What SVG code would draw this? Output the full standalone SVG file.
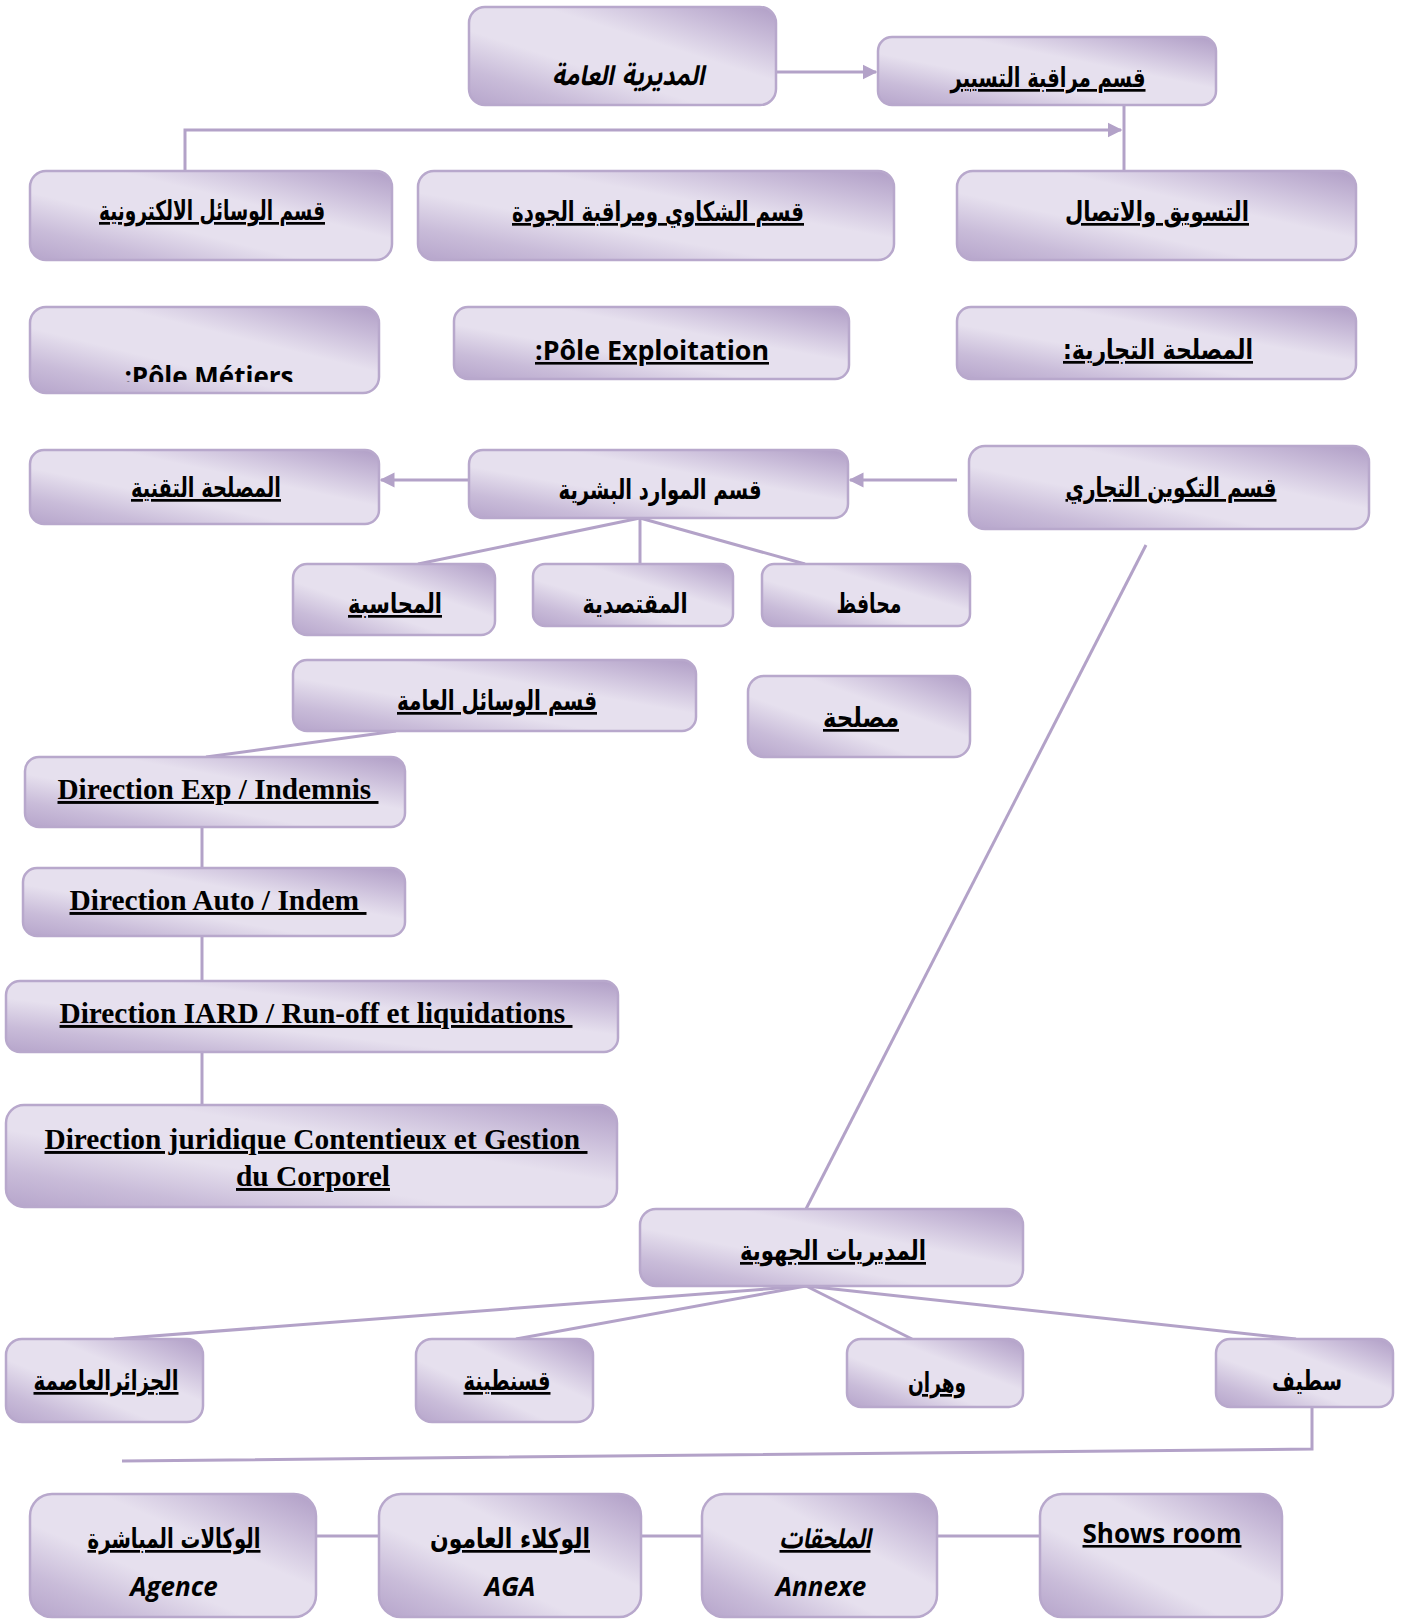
<svg xmlns="http://www.w3.org/2000/svg" width="1403" height="1619" viewBox="0 0 1403 1619">
<defs>
<linearGradient id="g" x1="0" y1="1" x2="1" y2="0">
<stop offset="0" stop-color="#b6a5cb"/>
<stop offset="0.18" stop-color="#c9bcd9"/>
<stop offset="0.38" stop-color="#e6e0ee"/>
<stop offset="0.62" stop-color="#e6e0ee"/>
<stop offset="0.82" stop-color="#c9bcd9"/>
<stop offset="1" stop-color="#b09ec6"/>
</linearGradient>
<marker id="ah" viewBox="0 0 10 10" refX="9" refY="5" markerWidth="5" markerHeight="6" orient="auto">
<path d="M0,0 L10,5 L0,10 z" fill="#b3a2c8"/>
</marker>
<clipPath id="cm"><rect x="30" y="300" width="350" height="82"/></clipPath>
</defs>
<style>
.b{fill:url(#g);stroke:#b8a8cc;stroke-width:2.5}
.c{stroke:#b3a2c8;stroke-width:3;fill:none}
.ar{font-family:"DejaVu Sans","Noto Sans Arabic",sans-serif;font-weight:bold;font-size:27px;fill:#000;text-anchor:middle;direction:rtl}
.u{text-decoration:underline}
.tr{font-family:"Liberation Serif",serif;font-weight:bold;font-size:29px;fill:#000;text-anchor:middle;text-decoration:underline;white-space:pre}
.sa{font-family:"Open Sans","Noto Sans",sans-serif;font-weight:bold;font-size:26px;fill:#000;text-anchor:middle}
</style>
<g id="connectors">
<line class="c" x1="776" y1="72" x2="876" y2="72" marker-end="url(#ah)"/>
<polyline class="c" points="185,171 185,130 1121,130" marker-end="url(#ah)"/>
<line class="c" x1="1124" y1="105" x2="1124" y2="184"/>
<line class="c" x1="957" y1="480" x2="850" y2="480" marker-end="url(#ah)"/>
<line class="c" x1="469" y1="480" x2="381" y2="480" marker-end="url(#ah)"/>
<line class="c" x1="640" y1="518" x2="418" y2="564"/>
<line class="c" x1="640" y1="518" x2="640" y2="564"/>
<line class="c" x1="640" y1="518" x2="805" y2="564"/>
<line class="c" x1="396" y1="731" x2="206" y2="757"/>
<line class="c" x1="202" y1="827" x2="202" y2="868"/>
<line class="c" x1="202" y1="936" x2="202" y2="981"/>
<line class="c" x1="202" y1="1052" x2="202" y2="1105"/>
<line class="c" x1="1146" y1="545" x2="806" y2="1209"/>
<line class="c" stroke-width="4" x1="806" y1="1286" x2="114" y2="1339"/>
<line class="c" stroke-width="4" x1="806" y1="1286" x2="516" y2="1339"/>
<line class="c" stroke-width="3" x1="806" y1="1286" x2="912" y2="1339"/>
<line class="c" stroke-width="4" x1="806" y1="1286" x2="1296" y2="1339"/>
<polyline class="c" points="1312,1407 1312,1449 122,1461"/>
<line class="c" x1="316" y1="1536" x2="379" y2="1536"/>
<line class="c" x1="641" y1="1536" x2="702" y2="1536"/>
<line class="c" x1="937" y1="1536" x2="1040" y2="1536"/>
</g>
<g id="n1"><rect class="b" x="469" y="7" width="307" height="98" rx="16"/><text class="ar" x="628" y="85" font-style="italic" font-size="25" textLength="152" lengthAdjust="spacingAndGlyphs">المديرية العامة</text></g>
<g id="n2"><rect class="b" x="878" y="37" width="338" height="68" rx="14"/><text class="ar u" x="1048" y="87" textLength="195" lengthAdjust="spacingAndGlyphs">قسم مراقبة التسيير</text></g>
<g id="n3"><rect class="b" x="30" y="171" width="362" height="89" rx="16"/><text class="ar u" x="212" y="220" textLength="226" lengthAdjust="spacingAndGlyphs">قسم الوسائل الالكترونية</text></g>
<g id="n4"><rect class="b" x="418" y="171" width="476" height="89" rx="16"/><text class="ar u" x="658" y="221" textLength="292" lengthAdjust="spacingAndGlyphs">قسم الشكاوي ومراقبة الجودة</text></g>
<g id="n5"><rect class="b" x="957" y="171" width="399" height="89" rx="16"/><text class="ar u" x="1157" y="221" textLength="184" lengthAdjust="spacingAndGlyphs">التسويق والاتصال</text></g>
<g id="n6"><rect class="b" x="30" y="307" width="349" height="86" rx="16"/><text class="sa" x="209" y="386" clip-path="url(#cm)">:Pôle Métiers</text></g>
<g id="n7"><rect class="b" x="454" y="307" width="395" height="72" rx="14"/><text class="sa" x="652" y="360" text-decoration="underline" textLength="234" lengthAdjust="spacingAndGlyphs">:Pôle Exploitation</text></g>
<g id="n8"><rect class="b" x="957" y="307" width="399" height="72" rx="14"/><text class="ar u" x="1158" y="359" textLength="190" lengthAdjust="spacingAndGlyphs">المصلحة التجارية:</text></g>
<g id="n9"><rect class="b" x="30" y="450" width="349" height="74" rx="14"/><text class="ar u" x="206" y="497" textLength="150" lengthAdjust="spacingAndGlyphs">المصلحة التقنية</text></g>
<g id="n10"><rect class="b" x="469" y="450" width="379" height="68" rx="14"/><text class="ar" x="660" y="499" textLength="203" lengthAdjust="spacingAndGlyphs">قسم الموارد البشرية</text></g>
<g id="n11"><rect class="b" x="969" y="446" width="400" height="83" rx="16"/><text class="ar u" x="1171" y="497" textLength="211" lengthAdjust="spacingAndGlyphs">قسم التكوين التجاري</text></g>
<g id="n12"><rect class="b" x="293" y="564" width="202" height="71" rx="14"/><text class="ar u" x="395" y="613" textLength="94" lengthAdjust="spacingAndGlyphs">المحاسبة</text></g>
<g id="n13"><rect class="b" x="533" y="564" width="200" height="62" rx="12"/><text class="ar" x="635" y="613" textLength="105" lengthAdjust="spacingAndGlyphs">المقتصدية</text></g>
<g id="n14"><rect class="b" x="762" y="564" width="208" height="62" rx="12"/><text class="ar" x="869" y="613" textLength="65" lengthAdjust="spacingAndGlyphs">محافظ</text></g>
<g id="n15"><rect class="b" x="293" y="660" width="403" height="71" rx="14"/><text class="ar u" x="497" y="710" textLength="200" lengthAdjust="spacingAndGlyphs">قسم الوسائل العامة</text></g>
<g id="n16"><rect class="b" x="748" y="676" width="222" height="81" rx="16"/><text class="ar u" x="861" y="727" textLength="76" lengthAdjust="spacingAndGlyphs">مصلحة</text></g>
<g id="n17"><rect class="b" x="25" y="757" width="380" height="70" rx="14"/><text class="tr" x="218" y="799" textLength="321" lengthAdjust="spacingAndGlyphs">Direction Exp / Indemnis </text></g>
<g id="n18"><rect class="b" x="23" y="868" width="382" height="68" rx="14"/><text class="tr" x="218" y="910" textLength="297" lengthAdjust="spacingAndGlyphs">Direction Auto / Indem </text></g>
<g id="n19"><rect class="b" x="6" y="981" width="612" height="71" rx="14"/><text class="tr" x="316" y="1023" textLength="513" lengthAdjust="spacingAndGlyphs">Direction IARD / Run-off et liquidations </text></g>
<g id="n20"><rect class="b" x="6" y="1105" width="611" height="102" rx="18"/><text class="tr" x="316" y="1149" textLength="543" lengthAdjust="spacingAndGlyphs">Direction juridique Contentieux et Gestion </text><text class="tr" x="313" y="1186" textLength="154" lengthAdjust="spacingAndGlyphs">du Corporel</text></g>
<g id="n21"><rect class="b" x="640" y="1209" width="383" height="77" rx="16"/><text class="ar u" x="833" y="1260" textLength="186" lengthAdjust="spacingAndGlyphs">المديريات الجهوية</text></g>
<g id="n22"><rect class="b" x="6" y="1339" width="197" height="83" rx="16"/><text class="ar u" x="106" y="1390" textLength="145" lengthAdjust="spacingAndGlyphs">الجزائرالعاصمة</text></g>
<g id="n23"><rect class="b" x="416" y="1339" width="177" height="83" rx="16"/><text class="ar u" x="507" y="1390" textLength="87" lengthAdjust="spacingAndGlyphs">قسنطينة</text></g>
<g id="n24"><rect class="b" x="847" y="1339" width="176" height="68" rx="14"/><text class="ar u" x="937" y="1392" textLength="58" lengthAdjust="spacingAndGlyphs">وهران</text></g>
<g id="n25"><rect class="b" x="1216" y="1339" width="177" height="68" rx="14"/><text class="ar" x="1307" y="1390" textLength="70" lengthAdjust="spacingAndGlyphs">سطيف</text></g>
<g id="n26"><rect class="b" x="30" y="1494" width="286" height="123" rx="22"/><text class="ar u" x="174" y="1548" textLength="173" lengthAdjust="spacingAndGlyphs">الوكالات المباشرة</text><text class="sa" x="174" y="1596" font-style="italic">Agence</text></g>
<g id="n27"><rect class="b" x="379" y="1494" width="262" height="123" rx="22"/><text class="ar u" x="510" y="1548" textLength="160" lengthAdjust="spacingAndGlyphs">الوكلاء العامون</text><text class="sa" x="510" y="1596" font-style="italic">AGA</text></g>
<g id="n28"><rect class="b" x="702" y="1494" width="235" height="123" rx="22"/><text class="ar u" x="825" y="1548" font-style="italic" font-weight="normal" textLength="91" lengthAdjust="spacingAndGlyphs">الملحقات</text><text class="sa" x="821" y="1596" font-style="italic">Annexe</text></g>
<g id="n29"><rect class="b" x="1040" y="1494" width="242" height="123" rx="22"/><text class="sa" x="1162" y="1543" text-decoration="underline">Shows room</text></g>
</svg>
